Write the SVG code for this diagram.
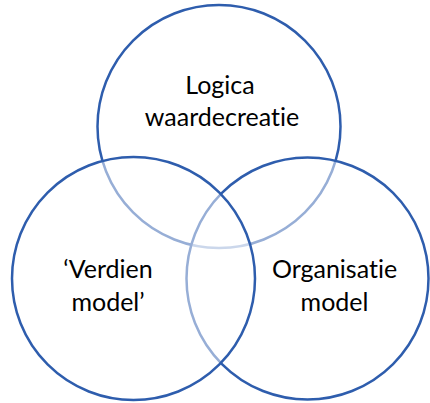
<svg xmlns="http://www.w3.org/2000/svg" width="430" height="403" viewBox="0 0 430 403">
  <style>
    .ring { fill: #ffffff; fill-opacity: 0.5; stroke: #2E5DAD; stroke-width: 2.5; }
    .label { font-family: Lato, "Open Sans", "Liberation Sans", sans-serif; font-size: 25px; fill: #000000; text-anchor: middle; font-variant-ligatures: none; font-feature-settings: "liga" 0, "dlig" 0; }
  </style>
  <rect x="0" y="0" width="430" height="403" fill="#ffffff"/>
  <!-- drawing order gives the translucent overlaps: top, right, then left -->
  <g id="logica-waardecreatie">
    <circle class="ring" cx="219" cy="126.5" r="121.5"/>
    <text class="label" x="220" y="94">Logica</text>
    <text class="label" x="222" y="126">waardecreatie</text>
  </g>
  <g id="organisatie-model">
    <circle class="ring" cx="307.5" cy="278.5" r="121"/>
    <text class="label" x="334.5" y="278">Organisatie</text>
    <text class="label" x="334.5" y="311">model</text>
  </g>
  <g id="verdien-model">
    <circle class="ring" cx="133.5" cy="278.5" r="121.5"/>
    <text class="label" x="108" y="278">‘Verdien</text>
    <text class="label" x="108" y="311">model’</text>
  </g>
  <g id="connectors"/>
</svg>
